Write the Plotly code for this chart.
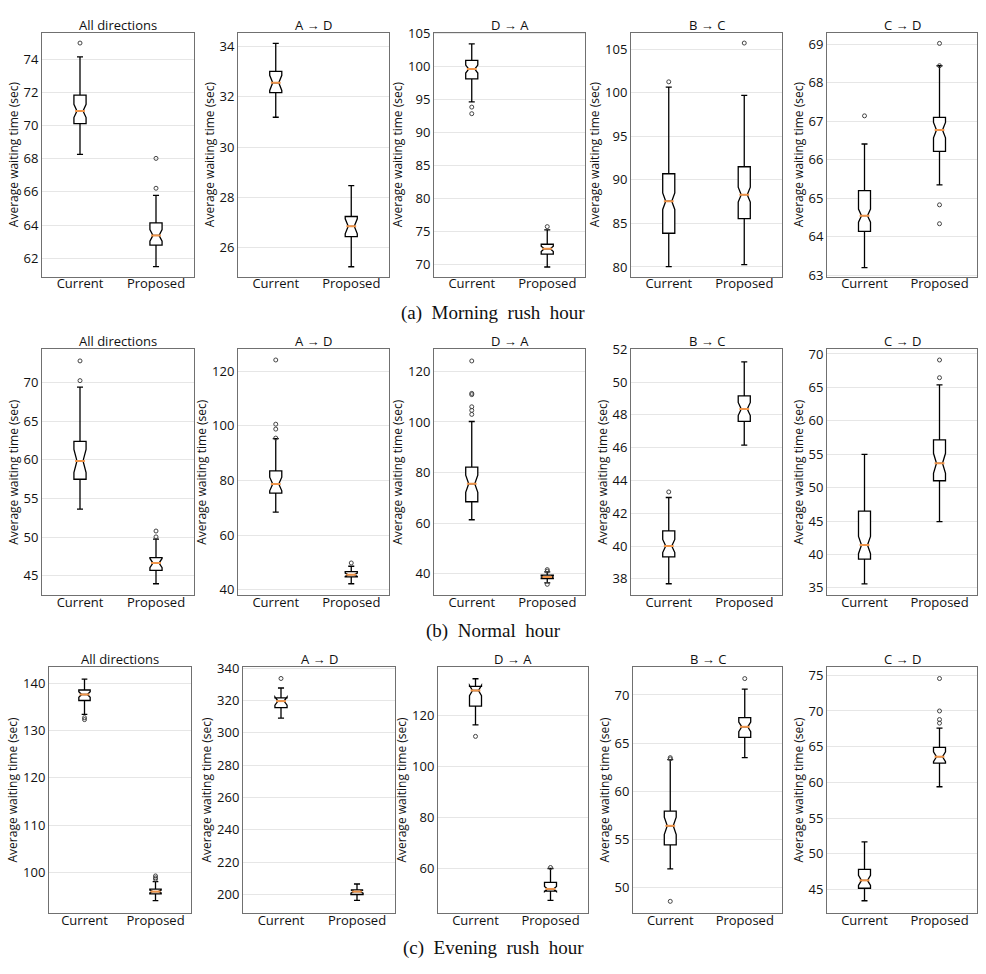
import plotly.graph_objects as go

W, H = 986, 974

directions = ["All directions", "A \u2192 D", "D \u2192 A", "B \u2192 C", "C \u2192 D"]
groups = ["Current", "Proposed"]
period_labels = ["(a)\u00a0\u00a0Morning\u00a0\u00a0rush\u00a0\u00a0hour",
                 "(b)\u00a0\u00a0Normal\u00a0\u00a0hour",
                 "(c)\u00a0\u00a0Evening\u00a0\u00a0rush\u00a0\u00a0hour"]

# ---- Morning rush hour: each entry = [Current, Proposed] per direction ----
m_low = [[68.26, 61.50], [31.19, 25.24], [94.7, 69.65], [80.04, 80.26], [63.2, 65.35]]
m_q1 = [[70.11, 62.79], [32.17, 26.44], [98.18, 71.6], [83.87, 85.55], [64.14, 66.22]]
m_med = [[70.88, 63.38], [32.56, 26.85], [99.67, 72.4], [87.55, 88.3], [64.55, 66.77]]
m_q3 = [[71.83, 64.13], [33.02, 27.24], [101.0, 73.1], [90.7, 91.5], [65.2, 67.1]]
m_high = [[74.14, 65.79], [34.13, 28.47], [103.5, 75.27], [100.65, 99.7], [66.41, 68.44]]
m_notch = [[0.4, 0.35], [0.3, 0.3], [0.6, 0.4], [0.95, 0.85], [0.17, 0.2]]
m_out_cur = [[74.97], [], [93.9, 92.9], [101.25], [67.14]]
m_out_prop = [[68.02, 66.22], [], [75.77], [105.7], [69.02, 68.44, 64.83, 64.34]]

# ---- Normal hour ----
n_low = [[53.64, 43.98], [68.4, 42.2], [61.4, 36.5], [37.7, 46.16], [35.6, 44.9]]
n_q1 = [[57.5, 45.72], [75.4, 44.7], [68.5, 38.2], [39.34, 47.6], [39.3, 51.03]]
n_med = [[59.87, 46.65], [78.7, 45.5], [75.6, 38.8], [40.0, 48.36], [41.41, 53.64]]
n_q3 = [[62.4, 47.37], [83.5, 46.6], [82.2, 39.5], [40.92, 49.16], [46.49, 57.14]]
n_high = [[69.4, 49.75], [95.3, 48.6], [100.2, 40.8], [42.96, 51.24], [54.97, 65.37]]
n_notch = [[1.5, 0.6], [2.5, 0.6], [3.4, 0.4], [0.4, 0.4], [1.3, 1.5]]
n_out_cur = [[72.8, 70.25], [124.1, 100.6, 98.8, 95.5],
             [124.1, 111.3, 110.8, 106.0, 104.6, 103.0], [43.3], []]
n_out_prop = [[50.8, 50.04], [49.8], [41.7, 41.1, 35.9], [], [69.1, 66.45]]

# ---- Evening rush hour ----
e_low = [[133.4, 94.1], [309.1, 196.3], [116.3, 47.5], [51.97, 63.5], [43.45, 59.4]]
e_q1 = [[136.33, 95.5], [315.6, 200.0], [123.7, 51.1], [54.46, 65.6], [45.2, 62.7]]
e_med = [[137.6, 96.0], [319.7, 201.8], [129.8, 52.0], [56.43, 66.7], [46.3, 63.6]]
e_q3 = [[138.55, 96.5], [321.7, 202.8], [131.4, 54.6], [57.96, 67.65], [47.85, 64.9]]
e_high = [[140.83, 98.1], [327.8, 206.5], [134.4, 60.0], [63.3, 70.6], [51.7, 67.6]]
e_notch = [[0.6, 0.3], [2.5, 1.0], [2.0, 1.0], [0.9, 0.5], [0.7, 0.7]]
e_out_cur = [[132.7, 132.3], [333.7], [111.8], [63.5, 63.37, 48.6], []]
e_out_prop = [[99.3, 98.9, 98.6], [], [60.4], [71.7], [74.54, 70.0, 68.8, 68.3]]

# axis ranges / tick steps
m_ranges = [[60.9, 75.6], [24.85, 34.56], [68.2, 105.2], [78.9, 106.9], [62.97, 69.3]]
n_ranges = [[42.5, 74.3], [38, 128], [31.6, 128.7], [37.0, 52.0], [33.9, 70.7]]
e_ranges = [[91.5, 143.4], [188.6, 340.8], [42.6, 139], [47.4, 72.9], [41.75, 76.15]]
m_dtick = [2, 2, 5, 5, 1]
n_dtick = [5, 20, 20, 2, 5]
e_dtick = [10, 20, 20, 5, 5]

rows = [
    (m_low, m_q1, m_med, m_q3, m_high, m_notch, m_out_cur, m_out_prop, m_ranges, m_dtick),
    (n_low, n_q1, n_med, n_q3, n_high, n_notch, n_out_cur, n_out_prop, n_ranges, n_dtick),
    (e_low, e_q1, e_med, e_q3, e_high, e_notch, e_out_cur, e_out_prop, e_ranges, e_dtick),
]

# layout in pixels
x_px = [
    [(42, 194), (238, 389), (434, 585), (631, 782), (827, 977)],
    [(42, 194), (238, 389), (434, 585), (631, 782), (827, 977)],
    [(49, 191), (243, 395), (438, 588), (633, 782), (827, 977)],
]
y_px = [(24, 272), (346, 596), (669, 919)]
caption_y = [309, 632, 955]

FONT = "Open Sans"
fig = go.Figure()
annotations = []
layout_axes = {}

n = 0
for r, (low, q1, med, q3, high, notch, oc, op, ranges, dticks) in enumerate(rows):
    for c in range(5):
        n += 1
        xa = "x" if n == 1 else f"x{n}"
        ya = "y" if n == 1 else f"y{n}"
        fig.add_trace(go.Box(
            x=groups, q1=q1[c], median=med[c], q3=q3[c],
            lowerfence=low[c], upperfence=high[c], notchspan=notch[c],
            notched=True, notchwidth=0.25, width=0.16, whiskerwidth=0.5,
            fillcolor="white", line=dict(color="black", width=1.3),
            boxpoints=False, showlegend=False, xaxis=xa, yaxis=ya))
        fig.add_trace(go.Scatter(
            x=groups, y=med[c], mode="markers", showlegend=False,
            marker=dict(symbol="line-ew", size=7, line=dict(color="#f0954a", width=2)),
            xaxis=xa, yaxis=ya))
        ox = [groups[0]] * len(oc[c]) + [groups[1]] * len(op[c])
        oy = list(oc[c]) + list(op[c])
        if oy:
            fig.add_trace(go.Scatter(
                x=ox, y=oy, mode="markers", showlegend=False,
                marker=dict(symbol="circle-open", size=4, color="#444", line=dict(width=1)),
                xaxis=xa, yaxis=ya))
        x0, x1 = x_px[r][c]
        y0, y1 = y_px[r]
        xd = [x0 / W, x1 / W]
        yd = [1 - y1 / H, 1 - y0 / H]
        kx = "xaxis" if n == 1 else f"xaxis{n}"
        ky = "yaxis" if n == 1 else f"yaxis{n}"
        layout_axes[kx] = dict(
            domain=xd, anchor=ya, type="category", categoryorder="array",
            categoryarray=groups, range=[-0.5, 1.5],
            showline=True, mirror=True, linecolor="#707070", linewidth=1,
            ticks="", showgrid=False, ticklabelstandoff=-5,
            tickfont=dict(family=FONT, size=13, color="#111"), zeroline=False)
        layout_axes[ky] = dict(
            domain=yd, anchor=xa, range=ranges[c], dtick=dticks[c], tick0=0,
            showline=True, mirror=True, linecolor="#707070", linewidth=1,
            showgrid=True, gridcolor="#e6e6e6", gridwidth=1, zeroline=False,
            ticks="", tickfont=dict(family=FONT, size=13, color="#111"),
            title=dict(text="Average waiting time (sec)", standoff=2,
                       font=dict(family=FONT, size=12, color="#111")))
        annotations.append(dict(
            text=directions[c], x=(x0 + x1) / 2 / W, y=1 - (y0 - 8) / H,
            xref="paper", yref="paper", xanchor="center", yanchor="middle",
            showarrow=False, font=dict(family=FONT, size=13, color="#111")))
    annotations.append(dict(
        text=period_labels[r], x=493 / W, y=1 - caption_y[r] / H,
        xref="paper", yref="paper", xanchor="center", yanchor="middle",
        showarrow=False, font=dict(family="Liberation Serif", size=19, color="#111")))

fig.update_layout(
    width=W, height=H, margin=dict(l=0, r=0, t=0, b=0),
    paper_bgcolor="white", plot_bgcolor="white",
    annotations=annotations, **layout_axes)

fig.write_html("out.html")
